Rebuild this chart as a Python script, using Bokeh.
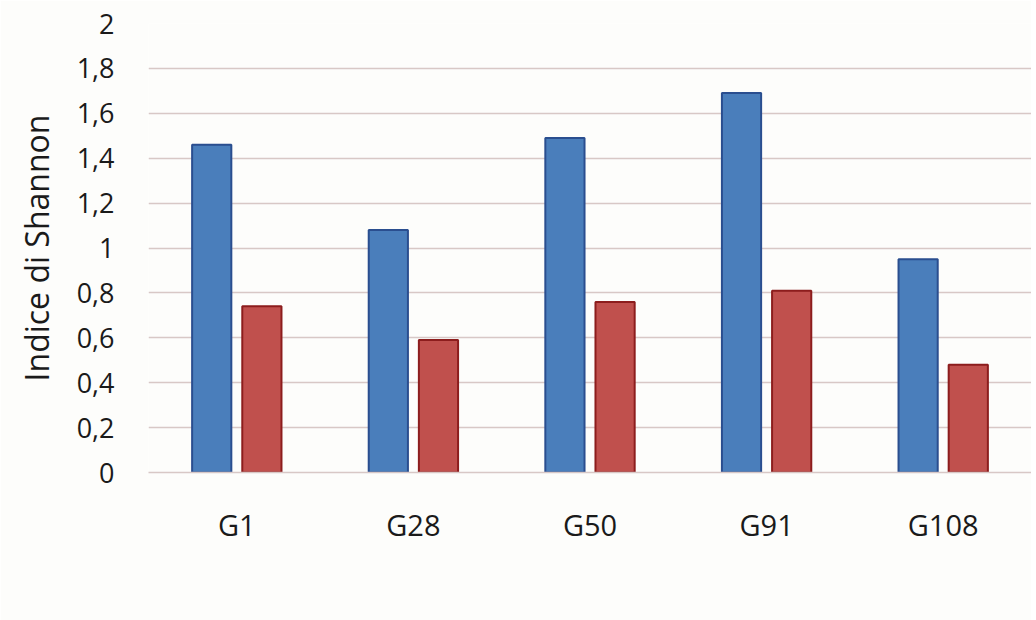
from bokeh.plotting import figure
from bokeh.models import (ColumnDataSource, FactorRange, Range1d, FixedTicker,
                          CustomJSTickFormatter, Legend, LegendItem)
from bokeh.transform import dodge
from bokeh.embed import file_html
from bokeh.resources import INLINE

categories = ["G1", "G28", "G50", "G91", "G108"]
shannon_index = [1.46, 1.08, 1.49, 1.69, 0.95]
eveness = [0.74, 0.59, 0.76, 0.81, 0.48]
y_ticks = [0, 0.2, 0.4, 0.6, 0.8, 1.0, 1.2, 1.4, 1.6, 1.8, 2.0]

FONT = "Open Sans"
src = ColumnDataSource(dict(cat=categories, shannon=shannon_index, even=eveness))

p = figure(width=1031, height=612, frame_width=883, frame_height=449,
           x_range=FactorRange(factors=categories),
           y_range=Range1d(0, 2), output_backend="svg", toolbar_location=None,
           min_border_left=148, min_border_right=0, min_border_top=23,
           min_border_bottom=0,
           background_fill_color="#fdfdfb", border_fill_color="#fdfdfb",
           outline_line_color=None)

r1 = p.vbar(x=dodge("cat", -0.142, range=p.x_range), top="shannon", width=0.222,
            source=src, fill_color="#4a7ebb", line_color="#2a4e8f", line_width=2)
r2 = p.vbar(x=dodge("cat", 0.142, range=p.x_range), top="even", width=0.222,
            source=src, fill_color="#c0504d", line_color="#8c1d1d", line_width=2)

p.xgrid.grid_line_color = None
p.ygrid.grid_line_color = "#d8c8c6"
p.ygrid.grid_line_width = 1.5
p.ygrid.ticker = FixedTicker(ticks=y_ticks)

p.yaxis.ticker = FixedTicker(ticks=y_ticks)
p.yaxis.formatter = CustomJSTickFormatter(
    code="return tick.toFixed(1).replace('.0','').replace('.',',');")
p.yaxis.axis_line_color = None
p.yaxis.major_tick_line_color = None
p.yaxis.minor_tick_line_color = None
p.yaxis.major_label_text_font = FONT
p.yaxis.major_label_text_font_size = "27px"
p.yaxis.major_label_text_color = "#1a1a1a"
p.yaxis.major_label_standoff = 28
p.yaxis.axis_label = "Indice di Shannon"
p.yaxis.axis_label_text_font = FONT
p.yaxis.axis_label_text_font_size = "32px"
p.yaxis.axis_label_text_font_style = "normal"
p.yaxis.axis_label_text_color = "#1a1a1a"
p.yaxis.axis_label_standoff = 16

p.xaxis.axis_line_color = "#d8c8c6"
p.xaxis.axis_line_width = 1.5
p.xaxis.major_tick_line_color = None
p.xaxis.minor_tick_line_color = None
p.xaxis.major_label_text_font = FONT
p.xaxis.major_label_text_font_size = "29px"
p.xaxis.major_label_text_color = "#1a1a1a"
p.xaxis.major_label_standoff = 26
p.xaxis.axis_label = " "
p.xaxis.axis_label_text_font_size = "14px"
p.xaxis.axis_label_standoff = 0

legend = Legend(items=[LegendItem(label="Shannon Index", renderers=[r1]),
                       LegendItem(label="Eveness", renderers=[r2])],
                orientation="horizontal", location="center_left",
                label_text_font=FONT, label_text_font_size="29px",
                label_text_color="#1a1a1a",
                glyph_width=19, glyph_height=19, label_standoff=8, spacing=38,
                background_fill_alpha=0, border_line_color=None,
                margin=165, padding=0)
p.add_layout(legend, "below")

open("out.html", "w").write(file_html(p, INLINE))
